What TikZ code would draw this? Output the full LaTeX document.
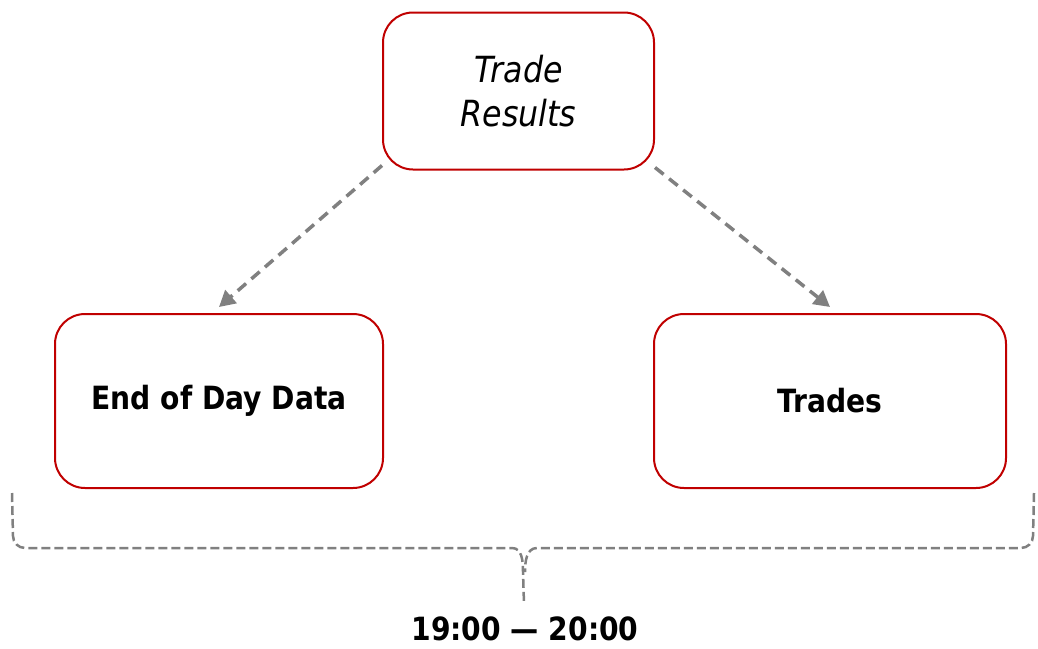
\documentclass[tikz,border=0pt]{standalone}
\usepackage{fontspec}
\setmainfont{DejaVu Sans}[FakeStretch=0.88]
\usetikzlibrary{arrows.meta,calc}
\definecolor{boxred}{HTML}{C00000}
\definecolor{linegray}{HTML}{808080}
\tikzset{
  rbox/.style={draw=boxred, line width=2pt, rounded corners=30pt, fill=white, inner sep=0pt, align=center},
  flowarrow/.style={draw=linegray, line width=3.5pt, dash pattern=on 11pt off 7pt, -{Triangle[length=16pt,width=17pt,fill=linegray]}},
  bracel/.style={draw=linegray, line width=2.5pt, dash pattern=on 9pt off 4pt},
  boldlbl/.style={font=\fontsize{32}{38}\selectfont\bfseries}
}
\begin{document}
\begin{tikzpicture}[x=1pt,y=-1pt]
\useasboundingbox (0,0) rectangle (1038,648);
\node[rbox, minimum width=271pt, minimum height=157pt, font=\fontsize{36}{44}\selectfont\itshape] (top) at (518.5,91) {Trade\\Results};
\node[rbox, minimum width=328pt, minimum height=174pt, boldlbl] (eod) at (219,401) {End of Day Data};
\node[rbox, minimum width=352pt, minimum height=174pt, boldlbl] (trades) at (830,401) {Trades};
\coordinate (a1s) at ($(top.south west)+(0,-5)$);
\coordinate (a1e) at ($(eod.north)+(0,-6)$);
\coordinate (a2s) at ($(top.south east)+(0,-3)$);
\coordinate (a2e) at ($(trades.north)+(0,-6)$);
\draw[flowarrow] (a1s) -- (a1e);
\draw[flowarrow] (a2s) -- (a2e);
\node[boldlbl, anchor=base, inner sep=0pt] (time) at (525,640) {19:00 — 20:00};
\coordinate (bl) at (12,493);
\coordinate (br) at (1034,493);
\coordinate (bc) at (524,604);
\draw[bracel] (bl) -- (13,536) to[out=-90,in=180] (25,548) -- (512,548) to[out=0,in=90] (523,572) -- (bc);
\draw[bracel] (br) -- (1033,536) to[out=-90,in=0] (1021,548) -- (537,548) to[out=180,in=90] (525,572);
\end{tikzpicture}
\end{document}
